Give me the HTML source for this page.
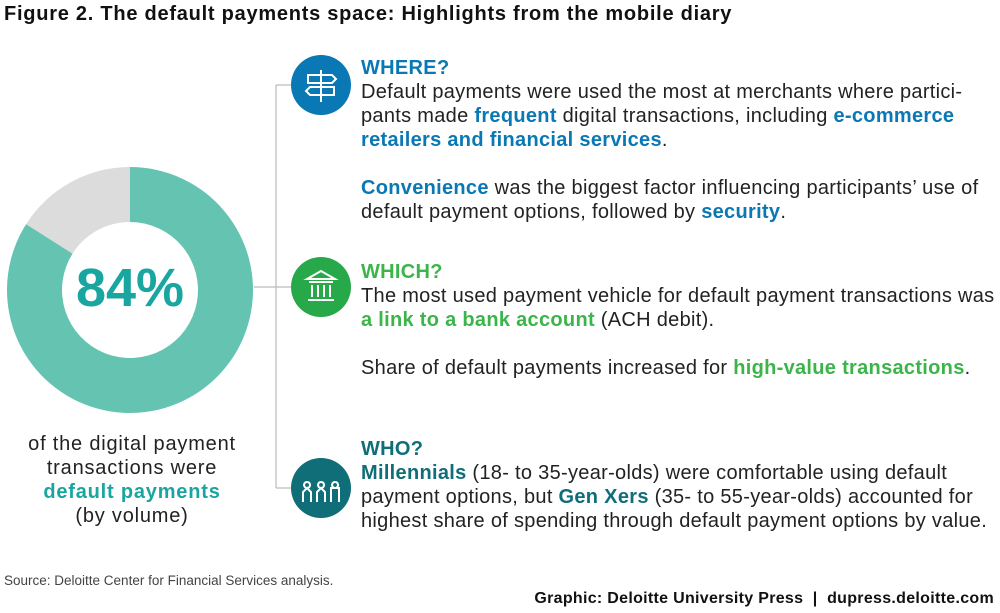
<!DOCTYPE html>
<html><head><meta charset="utf-8"><style>
body{margin:0;width:1000px;height:613px;background:#fff;position:relative;font-family:"Liberation Sans",sans-serif;color:#222;overflow:hidden}
.a{position:absolute}
.t{font-size:20px;letter-spacing:0.3px;line-height:24px;white-space:nowrap}
.b{color:#0a78b4;font-weight:bold}.g{color:#3bb54a;font-weight:bold}.d{color:#0f6e78;font-weight:bold}
</style></head><body>
<div class="a" style="left:4px;top:3px;font-size:20px;letter-spacing:0.75px;font-weight:bold;color:#111;white-space:nowrap">Figure 2. The default payments space: Highlights from the mobile diary</div>
<svg class="a" style="left:0;top:0" width="1000" height="613">
<line x1="276" y1="85" x2="276" y2="488" stroke="#bbb" stroke-width="1.2"/>
<line x1="276" y1="85" x2="292" y2="85" stroke="#bbb" stroke-width="1.2"/>
<line x1="254" y1="287" x2="292" y2="287" stroke="#bbb" stroke-width="1.2"/>
<line x1="276" y1="488" x2="292" y2="488" stroke="#bbb" stroke-width="1.2"/>
<g id="donut"></g>
<text x="130" y="306" text-anchor="middle" font-size="54" font-weight="bold" fill="#1aa6a0" font-family="Liberation Sans">84%</text>
<g><circle cx="321" cy="85" r="30" fill="#0a78b4"/><path d="M321 70v32M308 75h24l4 4-4 4h-24zM334 87h-24l-4 4 4 4h24z" stroke="#fff" stroke-width="2" fill="none"/></g>
<g><circle cx="321" cy="287" r="30" fill="#27a94a"/><path d="M307 279l14-8 14 8zM309 282h24M312 285v12M318 285v12M324 285v12M330 285v12M308 300h26" stroke="#fff" stroke-width="2" fill="none"/></g>
<g><circle cx="321" cy="488" r="30" fill="#106e78"/><path d="M307 482a3 3 0 1 0 .1 0M321 482a3 3 0 1 0 .1 0M335 482a3 3 0 1 0 .1 0M303 502v-10l4-4 4 4v10M317 502v-10l4-4 4 4v10M331 502v-14h8v14" stroke="#fff" stroke-width="2" fill="none"/></g>
</svg>
<div class="a" style="left:0;top:432px;width:264px;text-align:center;font-size:20px;letter-spacing:0.8px;line-height:24px;white-space:nowrap">of the digital payment<br>transactions were<br><span style="color:#1aa6a0;font-weight:bold">default payments</span><br>(by volume)</div>
<div class="a t" style="left:361px;top:56px"><span class="b">WHERE?</span><br>Default payments were used the most at merchants where partici-<br>pants made <span class="b">frequent</span> digital transactions, including <span class="b">e-commerce</span><br><span class="b">retailers and financial services</span>.<br><br><span class="b">Convenience</span> was the biggest factor influencing participants’ use of<br>default payment options, followed by <span class="b">security</span>.</div>
<div class="a t" style="left:361px;top:260px"><span class="g">WHICH?</span><br>The most used payment vehicle for default payment transactions was<br><span class="g">a link to a bank account</span> (ACH debit).<br><br>Share of default payments increased for <span class="g">high-value transactions</span>.</div>
<div class="a t" style="left:361px;top:437px"><span class="d">WHO?</span><br><span class="d">Millennials</span> (18- to 35-year-olds) were comfortable using default<br>payment options, but <span class="d">Gen Xers</span> (35- to 55-year-olds) accounted for<br>highest share of spending through default payment options by value.</div>
<div class="a" style="left:4px;top:573px;font-size:13.5px;color:#444;white-space:nowrap">Source: Deloitte Center for Financial Services analysis.</div>
<div class="a" style="right:6px;top:590px;font-size:16px;letter-spacing:0.3px;font-weight:bold;color:#111;white-space:nowrap">Graphic: Deloitte University Press &nbsp;|&nbsp; dupress.deloitte.com</div>
<script>
const categories=["default payments","other"];
const values=[84,16];
const colors=["#64c4b1","#dcdcdc"];
const cx=130,cy=290,R=123,r=68;
const g=document.getElementById('donut');
let start=0;const tot=values.reduce((a,b)=>a+b,0);
function pt(rad,f){const a=f*2*Math.PI-Math.PI/2;return [cx+rad*Math.cos(a),cy+rad*Math.sin(a)];}
values.forEach((v,i)=>{const e=start+v/tot;const lg=(v/tot)>0.5?1:0;
const [x1,y1]=pt(R,start),[x2,y2]=pt(R,e),[x3,y3]=pt(r,e),[x4,y4]=pt(r,start);
const p=document.createElementNS('http://www.w3.org/2000/svg','path');
p.setAttribute('d',`M${x1} ${y1}A${R} ${R} 0 ${lg} 1 ${x2} ${y2}L${x3} ${y3}A${r} ${r} 0 ${lg} 0 ${x4} ${y4}Z`);
p.setAttribute('fill',colors[i]);


g.appendChild(p);start=e;});
</script>
</body></html>
